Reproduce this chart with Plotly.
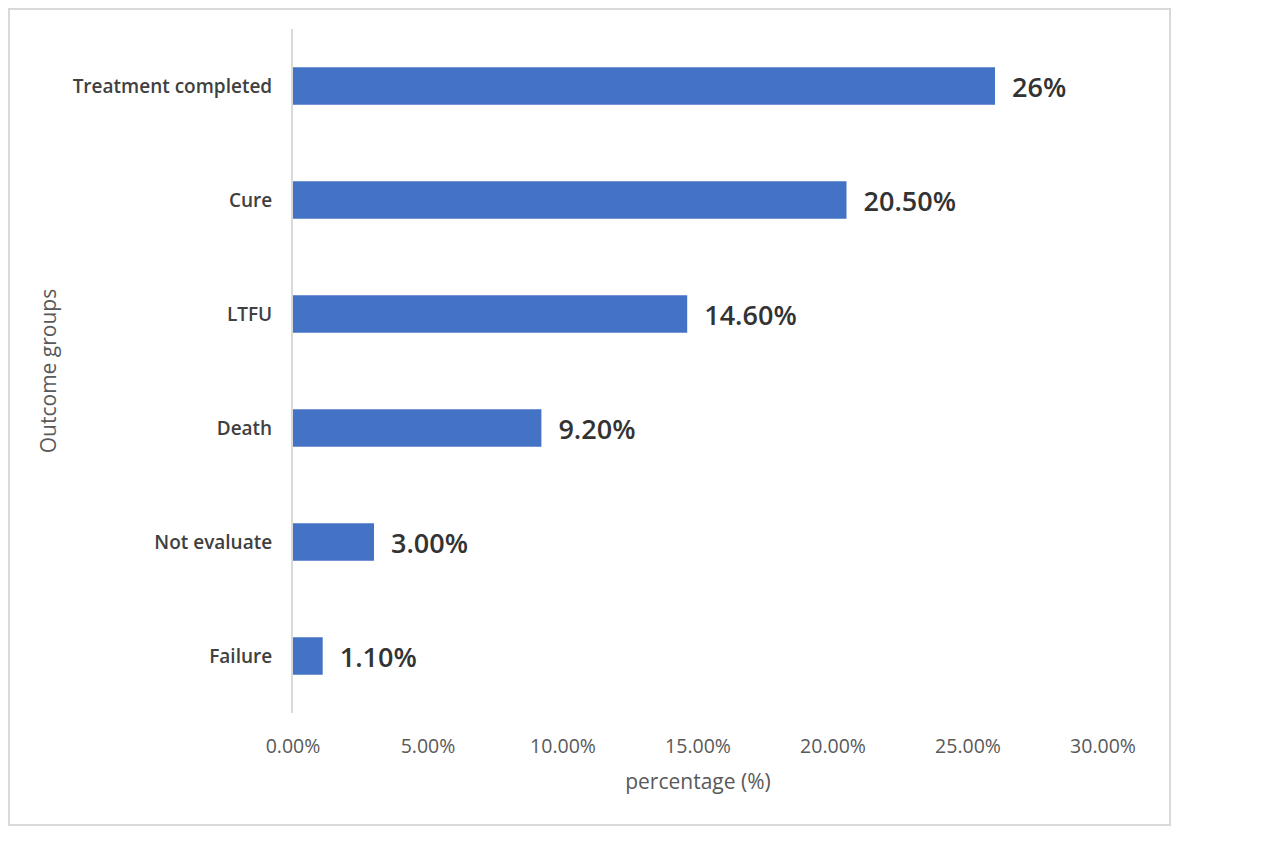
import plotly.graph_objects as go

# data (bottom to top as drawn)
groups = ['Failure', 'Not evaluate', 'Death', 'LTFU', 'Cure', 'Treatment completed']
values = [1.1, 3.0, 9.2, 14.6, 20.5, 26.0]
labels = ['1.10%', '3.00%', '9.20%', '14.60%', '20.50%', '26%']
tick_vals = [0, 5, 10, 15, 20, 25, 30]
tick_text = ['0.00%', '5.00%', '10.00%', '15.00%', '20.00%', '25.00%', '30.00%']

fig = go.Figure(go.Bar(
    x=values,
    y=groups,
    orientation='h',
    text=labels,
    texttemplate='\u00a0\u00a0%{text}',
    textposition='outside',
    textfont=dict(family='Open Sans', size=27, color='#333333', weight=600),
    cliponaxis=False,
    marker=dict(color='#4472C4', line=dict(width=0)),
))

fig.update_layout(
    width=1280,
    height=864,
    paper_bgcolor='white',
    plot_bgcolor='white',
    margin=dict(l=285, r=185, t=21, b=159),
    bargap=0.67,
    showlegend=False,
    font=dict(family='Open Sans', color='#595959'),
    xaxis=dict(
        range=[0, 30],
        tickvals=tick_vals,
        ticktext=tick_text,
        showgrid=False,
        zeroline=False,
        showline=False,
        ticks='',
        ticklabelstandoff=19,
        tickfont=dict(size=19.5, color='#595959'),
        title=dict(text='percentage (%)', font=dict(size=21, color='#595959'), standoff=16),
    ),
    yaxis=dict(
        showgrid=False,
        zeroline=False,
        showline=True,
        linecolor='#d9d9d9',
        linewidth=2,
        ticks='',
        ticklabelstandoff=15,
        tickfont=dict(size=19, color='#404040', weight=600),
        title=dict(text='Outcome groups', font=dict(size=21, color='#595959'), standoff=10),
    ),
    shapes=[dict(
        type='rect', xref='paper', yref='paper',
        x0=-0.3506, x1=1.0827, y0=-0.1637, y1=1.0292,
        line=dict(color='#d9d9d9', width=2),
        fillcolor='rgba(0,0,0,0)', layer='below',
    )],
)

fig.write_html("out.html")
